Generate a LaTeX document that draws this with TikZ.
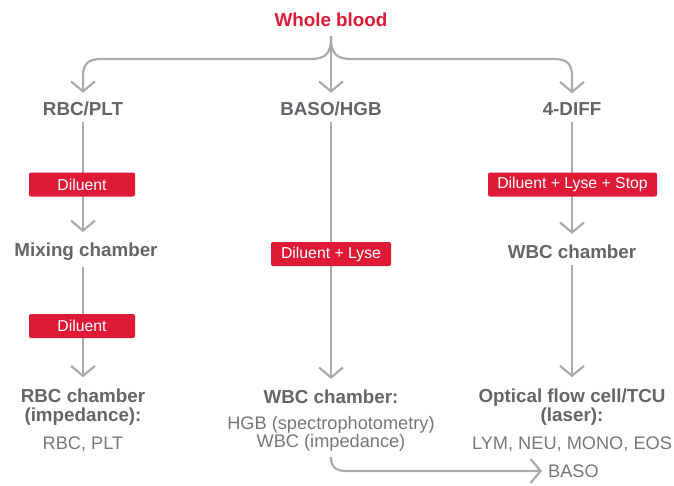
\documentclass[tikz,border=0pt]{standalone}
\usepackage{fontspec}
\setmainfont{Liberation Sans}
\usetikzlibrary{arrows.meta}
\definecolor{bred}{RGB}{222,26,54}
\definecolor{tgray}{RGB}{100,101,104}
\definecolor{lgray}{RGB}{118,119,122}
\definecolor{cgray}{RGB}{170,172,172}
\tikzset{
  head/.style={font=\fontsize{18.8}{19.5}\selectfont\bfseries, text=tgray, inner sep=0pt, align=center},
  plain/.style={font=\fontsize{18.2}{18.5}\selectfont, text=lgray, inner sep=0pt, align=center},
  redbox/.style={fill=bred, rounded corners=2pt, text=white, font=\fontsize{15.8}{16}\selectfont, minimum height=24pt, inner xsep=6pt, inner ysep=0pt},
  conn/.style={draw=cgray, line width=2.2pt, -{Straight Barb[length=10pt,width=24pt,line width=2.2pt]}}
}
\begin{document}
\begin{tikzpicture}[x=1pt,y=-1pt]
\useasboundingbox (0,0) rectangle (674,485);
% nodes
\node[head, text=bred] (wb) at (331,20) {Whole blood};
\node[head] (rbcplt) at (83,109) {RBC/PLT};
\node[head] (baso) at (331,109) {BASO/HGB};
\node[head] (diff) at (572,109) {4-DIFF};
\node[head] (mix) at (86,252) {Mixing chamber};
\node[head] (wbc1) at (572,252) {WBC chamber};
\node[head] (rbcch) at (83,407) {RBC chamber\\(impedance):};
\node[head] (wbcch) at (331,397) {WBC chamber:};
\node[head] (ofc) at (572,407) {Optical flow cell/TCU\\(laser):};
\node[plain] (rbcres) at (83,444) {RBC, PLT};
\node[plain] (wbcres) at (331,434) {HGB (spectrophotometry)\\WBC (impedance)};
\node[plain] (ofcres) at (572,444) {LYM, NEU, MONO, EOS};
\node[plain, anchor=west] (basores) at (548,471) {BASO};
% top branches
\coordinate (j) at (331,36);
\draw[conn] (j) -- ([yshift=9pt]baso.north);
\draw[conn] (j) .. controls (331,54) and (326,59) .. (310,59) -- (101,59)
  .. controls (88,59) and (83,64) .. (83,76) -- ([yshift=9pt]rbcplt.north);
\draw[conn] (j) .. controls (331,54) and (336,59) .. (352,59) -- (554,59)
  .. controls (567,59) and (572,64) .. (572,76) -- ([yshift=9pt]diff.north);
% columns
\draw[conn] ([yshift=-6pt]rbcplt.south) -- ([yshift=11pt]mix.north -| rbcplt.south);
\draw[conn] ([yshift=-6pt]mix.south -| rbcplt.south) -- ([yshift=11pt]rbcch.north);
\draw[conn] ([yshift=-6pt]baso.south) -- ([yshift=11pt]wbcch.north);
\draw[conn] ([yshift=-6pt]diff.south) -- ([yshift=11pt]wbc1.north);
\draw[conn] ([yshift=-6pt]wbc1.south) -- ([yshift=11pt]ofc.north);
% BASO arrow
\draw[conn] ([yshift=-5pt]wbcres.south) .. controls ([yshift=-15pt]wbcres.south) and (336,471) .. (346,471) -- ([xshift=-6pt]basores.west);
% red boxes
\node[redbox, minimum width=106pt] (d1) at (82,184.5) {Diluent};
\node[redbox, minimum width=106pt] (d2) at (82,326) {Diluent};
\node[redbox, minimum width=120pt] (d3) at (331,254) {Diluent + Lyse};
\node[redbox, minimum width=169pt] (d4) at (572.5,184.5) {Diluent + Lyse + Stop};
\end{tikzpicture}
\end{document}
